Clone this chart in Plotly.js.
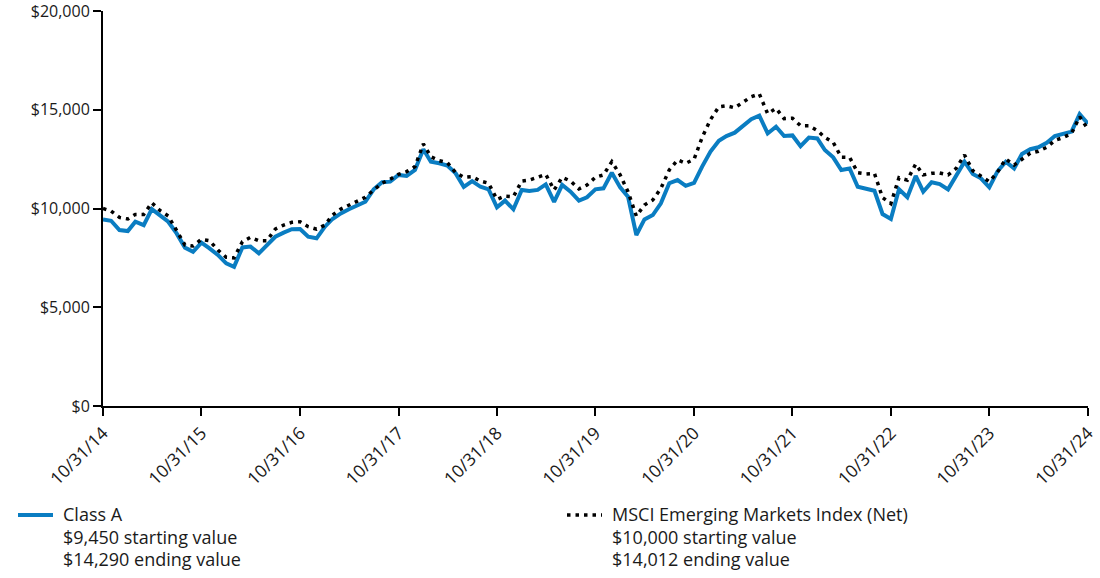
<!DOCTYPE html>
<html>
<head>
<meta charset="utf-8">
<script src="https://cdn.plot.ly/plotly-3.0.1.min.js"></script>
<style>html,body{margin:0;padding:0;background:#fff;}#chart{width:1100px;height:578px;}</style>
</head>
<body>
<div id="chart"></div>
<script>
// Month-end valuation dates, 10/31/14 .. 10/31/24 (121 months)
const startYear = 2014, startMonth = 10, monthCount = 121;

// Class A (hypothetical $10,000 less sales charge), in $
const classA = [
  9450, 9380, 8910, 8860, 9330, 9160, 9970, 9640, 9330, 8740, 8020, 7810,
  8270, 7980, 7650, 7220, 7050, 8030, 8070, 7730, 8150, 8570, 8780, 8950,
  8960, 8570, 8490, 9080, 9470, 9750, 9960, 10140, 10340, 10970, 11330, 11360,
  11700, 11650, 11950, 13000, 12370, 12290, 12170, 11780, 11100, 11390, 11100, 10970,
  10060, 10400, 9960, 10940, 10890, 10940, 11220, 10340, 11190, 10850, 10400, 10570,
  10970, 11020, 11810, 11070, 10600, 8660, 9450, 9670, 10260, 11280, 11440, 11150,
  11300, 12120, 12880, 13430, 13670, 13840, 14180, 14520, 14700, 13800, 14140, 13670,
  13700, 13160, 13590, 13550, 12960, 12590, 11950, 12030, 11100, 11020, 10900, 9720,
  9470, 10970, 10570, 11650, 10850, 11330, 11240, 10970, 11650, 12370, 11750, 11530,
  11070, 11870, 12370, 12030, 12760, 13000, 13100, 13330, 13670, 13800, 13890, 14780,
  14290
];

// MSCI Emerging Markets Index (Net), in $
const msciEM = [
  10000, 9870, 9550, 9470, 9700, 9700, 10290, 9890, 9620, 8880, 8150, 8100,
  8440, 8370, 7900, 7530, 7500, 8320, 8540, 8370, 8370, 8960, 9160, 9300,
  9330, 9080, 8950, 9160, 9670, 9970, 10180, 10380, 10570, 10940, 11280, 11480,
  11730, 11870, 12120, 13270, 12620, 12420, 12320, 11810, 11580, 11610, 11390, 11280,
  10460, 10630, 10600, 11390, 11440, 11580, 11730, 10940, 11580, 11390, 10990, 11190,
  11580, 11700, 12370, 11700, 10850, 9620, 10180, 10430, 11020, 11950, 12460, 12290,
  12490, 13600, 14500, 15150, 15200, 15100, 15380, 15660, 15800, 14800, 15070, 14550,
  14570, 14190, 14190, 13950, 13600, 13350, 12600, 12590, 11810, 11750, 11780, 10550,
  10250, 11560, 11440, 12250, 11700, 11780, 11800, 11700, 12030, 12710, 11910, 11650,
  11360, 11830, 12510, 12200, 12500, 12800, 12900, 13100, 13450, 13590, 13800, 14650,
  14012
];

const tickLabels = ['10/31/14','10/31/15','10/31/16','10/31/17','10/31/18','10/31/19',
                    '10/31/20','10/31/21','10/31/22','10/31/23','10/31/24'];
const seriesNames = ['Class A', 'MSCI Emerging Markets Index (Net)'];
const seriesNotes = [
  ['$9,450 starting value', '$14,290 ending value'],
  ['$10,000 starting value', '$14,012 ending value']
];
const seriesColors = ['#0a7dc2', '#000000'];

function pad(n){return (n<10?'0':'')+n;}
const dates = [];
for (let i = 0; i < monthCount; i++) {
  const y = startYear + Math.floor((startMonth - 1 + i) / 12);
  const m = (startMonth - 1 + i) % 12 + 1;
  const last = new Date(Date.UTC(y, m, 0)).getUTCDate();
  dates.push(y + '-' + pad(m) + '-' + pad(last));
}
const tickVals = tickLabels.map(function(t){
  const p = t.split('/');
  return '20' + p[2] + '-' + p[0] + '-' + p[1];
});

const fontFamily = '"Open Sans", "Noto Sans", sans-serif';
const textColor = '#1a1a1a';
const dotDash = '3.5px,5px';

const traces = [
  {x: dates, y: classA, type: 'scatter', mode: 'lines', name: seriesNames[0],
   line: {color: seriesColors[0], width: 4}, hoverinfo: 'skip', cliponaxis: false},
  {x: dates, y: msciEM, type: 'scatter', mode: 'lines', name: seriesNames[1],
   line: {color: seriesColors[1], width: 3.5, dash: dotDash}, hoverinfo: 'skip', cliponaxis: false}
];

// plot area geometry (pixels) for placing the custom legend below the chart
const W = 1100, H = 578, M = {l: 103, r: 12, t: 11, b: 172};
const PW = W - M.l - M.r, PH = H - M.t - M.b;
function px(x){return (x - M.l) / PW;}
function py(y){return (H - M.b - y) / PH;}

const legendX = [16, 565];     // left of legend sample line
const legendRowY = [514, 537, 559];
const shapes = [], annotations = [];
seriesNames.forEach(function(name, i){
  shapes.push({type: 'line', xref: 'paper', yref: 'paper',
    x0: px(legendX[i] + 2), x1: px(legendX[i] + 37), y0: py(515), y1: py(515),
    line: {color: seriesColors[i], width: i === 0 ? 4 : 3.5, dash: i === 0 ? 'solid' : dotDash}});
  const rows = [name].concat(seriesNotes[i]);
  rows.forEach(function(r, k){
    annotations.push({xref: 'paper', yref: 'paper', x: px(legendX[i] + 45), y: py(legendRowY[k]),
      xanchor: 'left', yanchor: 'middle', showarrow: false, text: r, align: 'left',
      font: {family: fontFamily, size: 18, color: textColor}});
  });
});

const layout = {
  width: W, height: H,
  margin: M,
  paper_bgcolor: '#ffffff', plot_bgcolor: '#ffffff',
  font: {family: fontFamily, size: 16, color: textColor},
  showlegend: false,
  shapes: shapes,
  annotations: annotations,
  xaxis: {
    type: 'date', range: [dates[0], dates[dates.length-1]], automargin: false,
    tickmode: 'array', tickvals: tickVals, ticktext: tickLabels,
    tickangle: -45, ticks: 'outside', ticklen: 8, tickwidth: 2, tickcolor: '#000',
    showline: true, linecolor: '#000', linewidth: 2, showgrid: false, zeroline: false,
    ticklabeloverflow: 'allow',
    tickfont: {family: fontFamily, size: 17.5, color: textColor}, fixedrange: true
  },
  yaxis: {
    range: [0, 20000], tickmode: 'linear', tick0: 0, dtick: 5000, automargin: false,
    tickprefix: '$', tickformat: ',d',
    ticks: 'outside', ticklen: 8, tickwidth: 2, tickcolor: '#000',
    showline: true, linecolor: '#000', linewidth: 2, showgrid: false, zeroline: false,
    ticklabeloverflow: 'allow',
    tickfont: {family: fontFamily, size: 16, color: textColor}, fixedrange: true
  }
};

Plotly.newPlot('chart', traces, layout, {displayModeBar: false, staticPlot: true});
</script>
</body>
</html>
